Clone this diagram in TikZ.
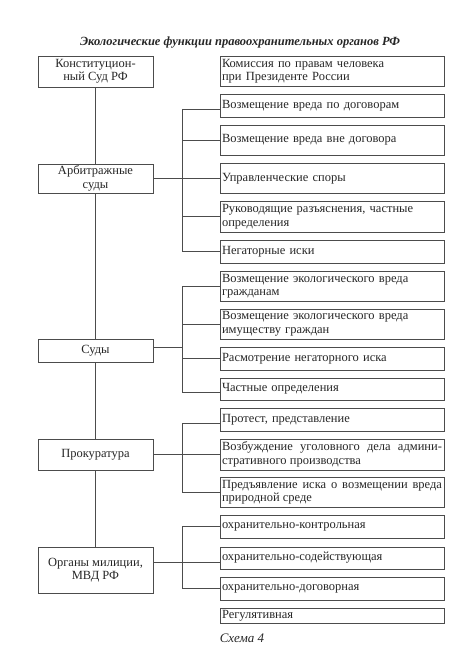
\documentclass[tikz,border=0pt]{standalone}
\usepackage{fontspec}
\setmainfont{Liberation Serif}
\begin{document}
\begin{tikzpicture}[x=1pt,y=-1pt,
  every node/.style={font=\fontsize{12.5}{13.5}\selectfont, text=black!85},
  lbox/.style={draw=black!70, line width=0.7pt, minimum width=115pt, align=center, inner sep=1pt},
  rbox/.style={draw=black!70, line width=0.7pt, text width=220pt, inner xsep=2pt, inner ysep=0pt, align=left},
  jbox/.style={rbox, align=justify},
  ln/.style={draw=black!70, line width=0.7pt}]
\useasboundingbox (0,0) rectangle (473,658);
% title and caption
\node[font=\bfseries\itshape\fontsize{12.5}{14}\selectfont] (title) at (240,43) {Экологические функции правоохранительных органов РФ};
\node[font=\itshape\fontsize{13}{15}\selectfont] (caption) at (242,638) {Схема 4};
% left column
\node[lbox, minimum height=31pt] (k) at (95.5,71.5) {Конституцион-\\ный Суд РФ};
\node[lbox, minimum height=29pt] (a) at (95.5,178.5) {Арбитражные\\суды};
\node[lbox, minimum height=23pt] (s) at (95.5,350.5) {Суды};
\node[lbox, minimum height=31pt] (p) at (95.5,454.5) {Прокуратура};
\node[lbox, minimum height=46pt] (o) at (95.5,570) {Органы милиции,\\МВД РФ};
% right column
\node[rbox, minimum height=30pt] (r0) at (332,71) {Комиссия по правам человека\\при Президенте России};
\node[rbox, minimum height=23pt] (a1) at (332,105.5) {Возмещение вреда по договорам};
\node[rbox, minimum height=30pt] (a2) at (332,140) {Возмещение вреда вне договора};
\node[rbox, minimum height=30pt] (a3) at (332,178.5) {Управленческие споры};
\node[rbox, minimum height=31pt] (a4) at (332,216.5) {Руководящие разъяснения, частные\\определения};
\node[rbox, minimum height=23pt] (a5) at (332,251.5) {Негаторные иски};
\node[rbox, minimum height=30pt] (s1) at (332,286) {Возмещение экологического вреда\\гражданам};
\node[rbox, minimum height=30pt] (s2) at (332,324) {Возмещение экологического вреда\\имуществу граждан};
\node[rbox, minimum height=23pt] (s3) at (332,358.5) {Расмотрение негаторного иска};
\node[rbox, minimum height=22pt] (s4) at (332,389) {Частные определения};
\node[rbox, minimum height=23pt] (p1) at (332,419.5) {Протест, представление};
\node[jbox, minimum height=31pt] (p2) at (332,454.5) {Возбуждение уголовного дела админи-\linebreak стративного производства};
\node[jbox, minimum height=30pt] (p3) at (332,492) {Предъявление иска о возмещении вреда\linebreak природной среде};
\node[rbox, minimum height=23pt] (o1) at (332,526.5) {охранительно-контрольная};
\node[rbox, minimum height=22pt] (o2) at (332,558) {охранительно-содействующая};
\node[rbox, minimum height=23pt] (o3) at (332,588.5) {охранительно-договорная};
\node[rbox, minimum height=15pt] (o4) at (332,615.5) {Регулятивная};
% spine
\draw[ln] (k.south) -- (a.north);
\draw[ln] (a.south) -- (s.north);
\draw[ln] (s.south) -- (p.north);
\draw[ln] (p.south) -- (o.north);
% bracket x
\coordinate (bx) at (182,0);
% arbitration group
\coordinate (a1c) at ([yshift=-3.5pt]a1.west);
\draw[ln] (a1c -| bx) -- (a5.west -| bx);
\draw[ln] (a1c -| bx) -- (a1c);
\draw[ln] (a2.west -| bx) -- (a2.west);
\draw[ln] (a.east) -- (a3.west);
\draw[ln] (a4.west -| bx) -- (a4.west);
\draw[ln] (a5.west -| bx) -- (a5.west);
% courts group
\coordinate (s4c) at ([yshift=-3.5pt]s4.west);
\coordinate (sc) at ([yshift=3.5pt]s.east);
\draw[ln] (s1.west -| bx) -- (s4c -| bx);
\draw[ln] (s1.west -| bx) -- (s1.west);
\draw[ln] (s2.west -| bx) -- (s2.west);
\draw[ln] (s3.west -| bx) -- (s3.west);
\draw[ln] (s4c -| bx) -- (s4c);
\draw[ln] (sc) -- (sc -| bx);
% prosecutor group
\coordinate (p1c) at ([yshift=-3.5pt]p1.west);
\draw[ln] (p1c -| bx) -- (p3.west -| bx);
\draw[ln] (p1c -| bx) -- (p1c);
\draw[ln] (p.east) -- (p2.west);
\draw[ln] (p3.west -| bx) -- (p3.west);
% police group
\coordinate (o2c) at ([yshift=-4pt]o2.west);
\draw[ln] (o1.west -| bx) -- (o3.west -| bx);
\draw[ln] (o1.west -| bx) -- (o1.west);
\draw[ln] (o2c -| o.east) -- (o2c);
\draw[ln] (o3.west -| bx) -- (o3.west);
\end{tikzpicture}
\end{document}
